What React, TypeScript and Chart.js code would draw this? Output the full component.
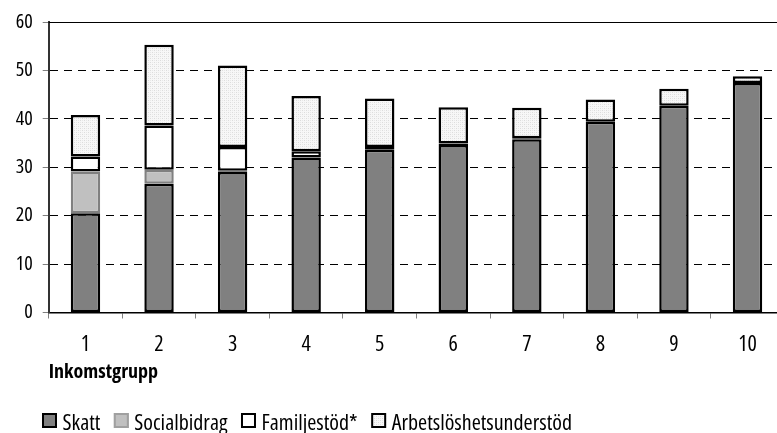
import React, { useEffect, useRef } from "react";
import { Chart, registerables } from "chart.js";

Chart.register(...registerables);

const categories = ["1", "2", "3", "4", "5", "6", "7", "8", "9", "10"];
const skatt = [20.5, 26.6, 29.0, 32.0, 33.6, 34.6, 35.8, 39.4, 42.7, 47.4];
const socialbidrag = [8.6, 2.9, 0.3, null, null, null, null, null, null, null];
const familjestod = [3.1, 9.1, 4.9, 1.3, 0.6, 0.3, 0.2, null, null, null];
const arbetsloshet = [8.6, 16.7, 16.8, 11.4, 10.0, 7.5, 6.3, 4.6, 3.5, 1.4];
const yTicks = [0, 10, 20, 30, 40, 50, 60];

const FAMILY = "'Open Sans', 'Roboto Condensed', sans-serif";

function makePattern(): CanvasPattern | string {
  const c = document.createElement("canvas");
  c.width = 4;
  c.height = 4;
  const g = c.getContext("2d");
  if (!g) return "#f0f0f0";
  g.fillStyle = "#f7f7f7";
  g.fillRect(0, 0, 4, 4);
  g.fillStyle = "#dcdcdc";
  g.fillRect(0, 0, 1, 1);
  g.fillRect(2, 2, 1, 1);
  g.fillStyle = "#e8e8e8";
  g.fillRect(2, 0, 1, 1);
  g.fillRect(0, 2, 1, 1);
  const p = g.createPattern(c, "repeat");
  return p || "#f0f0f0";
}

const topLine = {
  id: "topLine",
  afterDraw(chart: any) {
    const { ctx, chartArea } = chart;
    ctx.save();
    ctx.strokeStyle = "#000";
    ctx.lineWidth = 1;
    ctx.beginPath();
    ctx.moveTo(chartArea.left, Math.round(chartArea.top) + 0.5);
    ctx.lineTo(chartArea.right, Math.round(chartArea.top) + 0.5);
    ctx.stroke();
    ctx.restore();
  },
};

const customLegend = {
  id: "customLegend",
  afterDraw(chart: any) {
    const { ctx } = chart;
    const boxTop = 413;
    const box = 15;
    let x = 42;
    ctx.save();
    ctx.font = `normal condensed 22px ${FAMILY}`;
    ctx.textBaseline = "alphabetic";
    ctx.textAlign = "left";
    chart.data.datasets.forEach((ds: any) => {
      ctx.fillStyle = ds.backgroundColor;
      ctx.fillRect(x, boxTop, box, box);
      ctx.lineWidth = 2;
      ctx.strokeStyle = ds.borderColor === "#808080" ? "#a0a0a0" : "#000";
      ctx.strokeRect(x + 1, boxTop + 1, box - 2, box - 2);
      ctx.fillStyle = "#000";
      ctx.fillText(ds.label, x + 20.5, 429.5);
      x += 20.5 + ctx.measureText(ds.label).width + 13.5;
    });
    ctx.restore();
  },
};

export default function App() {
  const ref = useRef<HTMLCanvasElement | null>(null);
  useEffect(() => {
    document.body.style.margin = "0";
    document.body.style.overflow = "hidden";
    if (!ref.current) return;
    const pattern = makePattern();
    const chart = new Chart(ref.current, {
      type: "bar",
      data: {
        labels: categories,
        datasets: [
          { label: "Skatt", data: skatt, backgroundColor: "#808080", borderColor: "#000", borderWidth: 2.5, borderSkipped: false },
          { label: "Socialbidrag", data: socialbidrag as any, backgroundColor: "#c0c0c0", borderColor: "#808080", borderWidth: 2.5, borderSkipped: false },
          { label: "Familjestöd*", data: familjestod as any, backgroundColor: "#ffffff", borderColor: "#000", borderWidth: 2.5, borderSkipped: false },
          { label: "Arbetslöshetsunderstöd", data: arbetsloshet, backgroundColor: pattern as any, borderColor: "#000", borderWidth: 2.5, borderSkipped: false },
        ],
      },
      plugins: [topLine, customLegend],
      options: {
        animation: false,
        responsive: false,
        maintainAspectRatio: false,
        layout: { padding: { left: 0, right: 0.7, top: 22, bottom: 0 } },
        datasets: { bar: { barPercentage: 0.40, categoryPercentage: 1 } },
        plugins: {
          tooltip: { enabled: false },
          legend: { display: false },
        },
        scales: {
          x: {
            stacked: true,
            afterFit: (scale: any) => {
              scale.height = 120.5;
            },
            grid: { offset: true, drawOnChartArea: false, drawTicks: true, tickLength: 6, color: "#808080" },
            border: { color: "#000", width: 1.5 },
            ticks: { color: "#000", font: { family: FAMILY, size: 22, weight: "normal condensed" }, padding: 13 },
            title: {
              display: true,
              text: "Inkomstgrupp",
              align: "start",
              color: "#000",
              font: { family: FAMILY, size: 20, weight: "bold condensed" },
              padding: { top: 0, bottom: 49 },
            },
          },
          y: {
            stacked: true,
            min: 0,
            max: 60,
            afterFit: (scale: any) => {
              scale.width = 48.7;
            },
            afterBuildTicks: (axis: any) => {
              axis.ticks = yTicks.map((v) => ({ value: v }));
            },
            grid: { color: "#000", lineWidth: 1, tickLength: 6, tickColor: "#808080" },
            border: { color: "#333", width: 2, dash: [8, 6] },
            ticks: { color: "#000", font: { family: FAMILY, size: 20, weight: "normal condensed" }, padding: 10 },
          },
        },
      },
    });
    return () => chart.destroy();
  }, []);
  return (
    <div style={{ width: 777, height: 433, overflow: "hidden" }}>
      <canvas ref={ref} width={785} height={433} style={{ display: "block" }} />
    </div>
  );
}
